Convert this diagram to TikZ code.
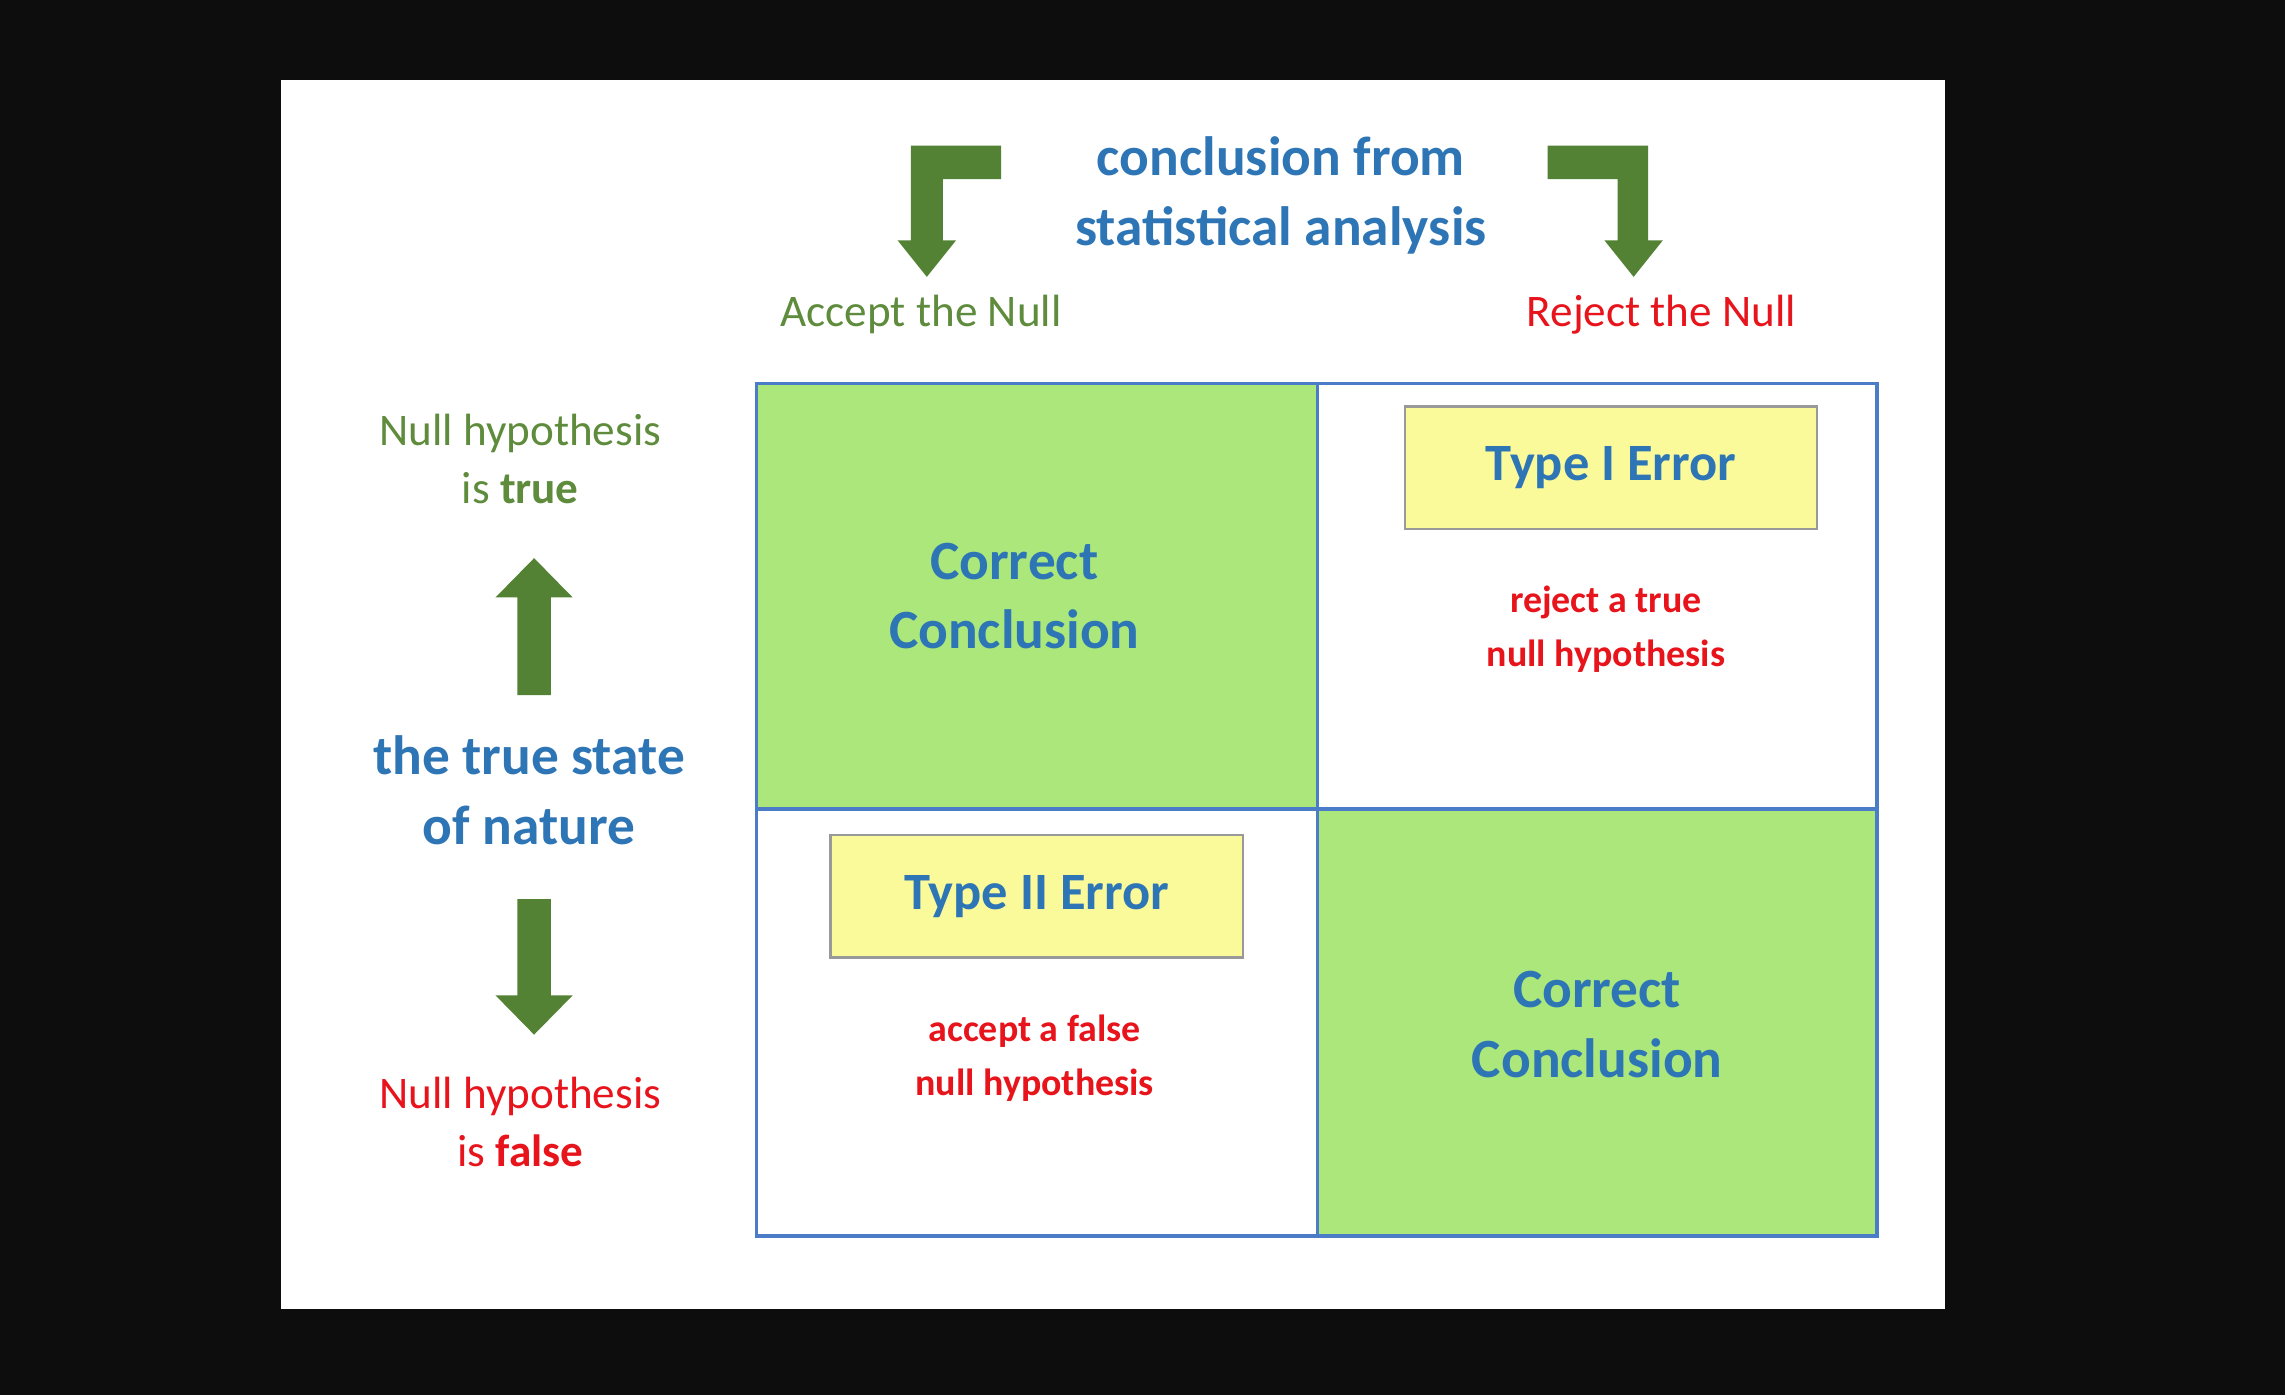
\documentclass[tikz,border=0pt]{standalone}
\usepackage{fontspec}
\setmainfont{Carlito}
\begin{document}
\begin{tikzpicture}[x=0.5pt,y=-0.5pt,
  cellg/.style={fill=cgreen,draw=none},
  ybox/.style={fill=cyellow,draw=gray!80,line width=0.8pt},
  garrow/.style={fill=agreen,draw=none},
  bluet/.style={text=tblue,font=\bfseries\fontsize{19}{24}\selectfont,align=center},
  redt/.style={text=tred,font=\bfseries\fontsize{13}{18.5}\selectfont,align=center},
  lab/.style={font=\fontsize{15.5}{20}\selectfont,align=center}]
\definecolor{cgreen}{HTML}{ABE77A}
\definecolor{cyellow}{HTML}{FBFA9A}
\definecolor{agreen}{HTML}{548235}
\definecolor{tblue}{HTML}{2E75B6}
\definecolor{tred}{HTML}{E8141C}
\definecolor{tgreen}{HTML}{5E8C3C}
\definecolor{gridb}{HTML}{4A7CC8}
\fill[black!95] (0,0) rectangle (1568,957);
\fill[white] (193,55) rectangle (1335,898);
\useasboundingbox (0,0) rectangle (1568,957);
% cells
\fill[cellg] (519,263) rectangle (904,555);
\fill[cellg] (904,555) rectangle (1288,848);
\draw[gridb,line width=1.2pt] (519,263) rectangle (1288,848);
\draw[gridb,line width=1.2pt] (904,263) -- (904,848) (519,555) -- (1288,555);
\node[ybox,minimum width=141.5pt,minimum height=42pt] (t1) at (1105.5,321) {};
\node[ybox,minimum width=141.5pt,minimum height=42pt] (t2) at (711.5,615) {};
\node[bluet] (c1) at (696,409) {Correct\\Conclusion};
\node[bluet] (c2) at (1096,703) {Correct\\Conclusion};
\node[bluet,font=\bfseries\fontsize{18}{22}\selectfont] (l1) at (t1) {Type I Error};
\node[bluet,font=\bfseries\fontsize{18}{22}\selectfont] (l2) at (t2) {Type II Error};
\node[redt] (r1) at (1102,432) {reject a true\\null hypothesis};
\node[redt] (r2) at (710,726) {accept a false\\null hypothesis};
% top
\node[bluet] (conc) at (879,134) {conclusion from\\statistical analysis};
\node[lab,text=tgreen] (acc) at (632,216) {Accept the Null};
\node[lab,text=tred] (rej) at (1140,216) {Reject the Null};
\fill[garrow] (687,100) -- (625,100) -- (625,165) -- (616,165) -- (636,190) -- (656,165) -- (647,165) -- (647,123) -- (687,123) -- cycle;
\fill[garrow] (1062,100) -- (1131,100) -- (1131,165) -- (1141,165) -- (1121,190) -- (1101,165) -- (1110,165) -- (1110,123) -- (1062,123) -- cycle;
% left
\node[lab,text=tgreen] (nt) at (357,315) {Null hypothesis\\is \textbf{true}};
\node[bluet] (ts) at (363,542) {the true state\\of nature};
\node[lab,text=tred] (nf) at (357,770) {Null hypothesis\\is \textbf{false}};
\fill[garrow] (355,477) -- (355,410) -- (340,410) -- (366.5,383) -- (393,410) -- (378,410) -- (378,477) -- cycle;
\fill[garrow] (355,617) -- (355,683) -- (340,683) -- (366.5,710) -- (393,683) -- (378,683) -- (378,617) -- cycle;
\end{tikzpicture}
\end{document}
